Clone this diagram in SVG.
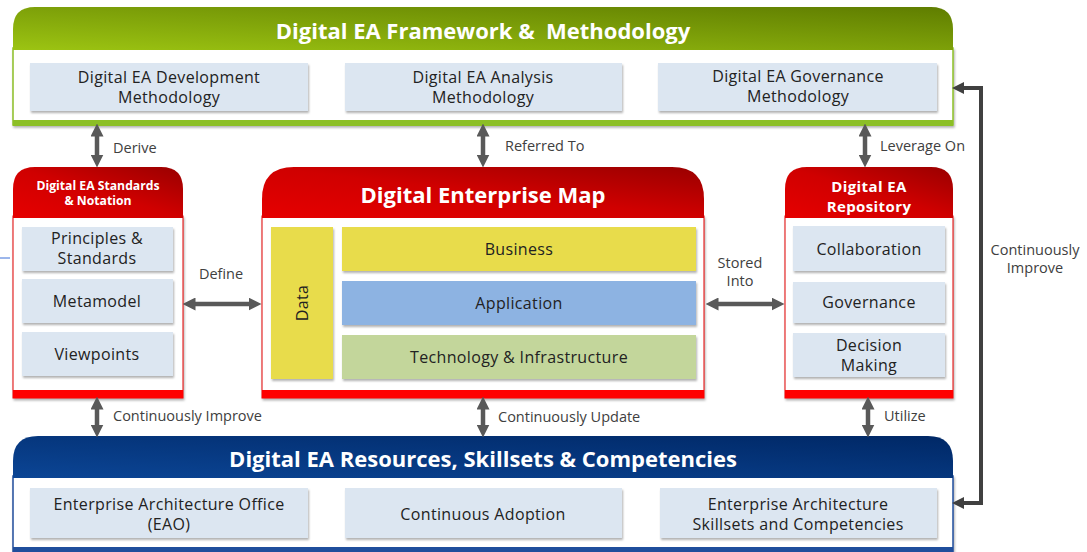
<svg xmlns="http://www.w3.org/2000/svg" width="1087" height="552" viewBox="0 0 1087 552">
<defs>
<linearGradient id="gGreen" x1="0" y1="1" x2="1" y2="0"><stop offset="0" stop-color="#9cc412"/><stop offset="1" stop-color="#5f7d00"/></linearGradient>
<linearGradient id="gRed" x1="0" y1="1" x2="1" y2="0"><stop offset="0" stop-color="#e60000"/><stop offset="0.5" stop-color="#d00000"/><stop offset="1" stop-color="#990000"/></linearGradient>
<linearGradient id="gBlue" x1="0" y1="1" x2="1" y2="0"><stop offset="0" stop-color="#0b4595"/><stop offset="1" stop-color="#002866"/></linearGradient>
<filter id="sh" x="-5%" y="-10%" width="110%" height="130%"><feDropShadow dx="1" dy="2" stdDeviation="1.2" flood-color="#000" flood-opacity="0.3"/></filter>
<marker id="ah" viewBox="0 0 10 10" refX="5" refY="5" markerWidth="13" markerHeight="13" markerUnits="userSpaceOnUse" orient="auto-start-reverse"><path d="M0,0 L10,5 L0,10 Z" fill="#595959"/></marker>
<marker id="ah2" viewBox="0 0 10 10" refX="5" refY="5" markerWidth="12" markerHeight="12" markerUnits="userSpaceOnUse" orient="auto-start-reverse"><path d="M0,0 L10,5 L0,10 Z" fill="#404040"/></marker>
</defs>
<style>
.box{fill:#dce6f1;filter:url(#sh)}
.bt{font-family:"Open Sans","Liberation Sans",sans-serif;font-size:16px;letter-spacing:0.35px;fill:#222222;text-anchor:middle}
.ht{font-family:"Open Sans","Liberation Sans",sans-serif;font-weight:bold;fill:#ffffff;text-anchor:middle;white-space:pre}
.lbl{font-family:"Open Sans","Liberation Sans",sans-serif;font-size:14.5px;fill:#404040}
.conn{stroke:#595959;stroke-width:4.5;fill:none;marker-start:url(#ah);marker-end:url(#ah)}
</style>
<rect width="1087" height="552" fill="#ffffff"/>
<line x1="0" y1="258" x2="10" y2="258" stroke="#3a6fd8" stroke-width="1"/>

<g id="framework">
<rect x="13" y="48" width="940" height="77" fill="#fff" stroke="#8cbf26" stroke-width="1.5" filter="url(#sh)"/>
<path d="M13,50 V29 Q13,7 35,7 H931 Q953,7 953,29 V50 Z" fill="url(#gGreen)"/>
<rect x="13" y="120" width="940" height="6" fill="#8cbf26"/>
<text class="ht" x="483" y="39" font-size="22">Digital EA Framework &amp;  Methodology</text>
<rect class="box" x="30" y="63" width="278" height="48"/>
<text class="bt" x="169" y="83">Digital EA Development<tspan x="169" dy="20">Methodology</tspan></text>
<rect class="box" x="345" y="63" width="277" height="48"/>
<text class="bt" x="483" y="83">Digital EA Analysis<tspan x="483" dy="20">Methodology</tspan></text>
<rect class="box" x="658" y="63" width="279" height="48"/>
<text class="bt" x="798" y="82">Digital EA Governance<tspan x="798" dy="20">Methodology</tspan></text>
</g>

<g id="standards">
<rect x="13" y="216" width="170" height="182" fill="#fff" stroke="#e00000" stroke-width="1" filter="url(#sh)"/>
<path d="M13,218 V189 Q13,167 35,167 H161 Q183,167 183,189 V218 Z" fill="url(#gRed)"/>
<rect x="13" y="390" width="170" height="8" fill="#ff0000"/>
<text class="ht" x="98" y="190" font-size="12.2">Digital EA Standards<tspan x="98" dy="15">&amp; Notation</tspan></text>
<rect class="box" x="22" y="227" width="151" height="44"/>
<text class="bt" x="97" y="244">Principles &amp;<tspan x="97" dy="20">Standards</tspan></text>
<rect class="box" x="22" y="279" width="151" height="44"/>
<text class="bt" x="97" y="307">Metamodel</text>
<rect class="box" x="22" y="332" width="151" height="44"/>
<text class="bt" x="97" y="360">Viewpoints</text>
</g>

<g id="enterprise-map">
<rect x="262" y="216" width="442" height="182" fill="#fff" stroke="#e00000" stroke-width="1" filter="url(#sh)"/>
<path d="M262,218 V199 Q262,167 294,167 H672 Q704,167 704,199 V218 Z" fill="url(#gRed)"/>
<rect x="262" y="390" width="442" height="8" fill="#ff0000"/>
<text class="ht" x="483" y="203" font-size="22">Digital Enterprise Map</text>
<rect x="271" y="227" width="62" height="152" fill="#e8dc4c" filter="url(#sh)"/>
<text class="bt" transform="translate(308,303) rotate(-90)" x="0" y="0">Data</text>
<rect x="342" y="227" width="354" height="44" fill="#e8dc4c" filter="url(#sh)"/>
<text class="bt" x="519" y="255">Business</text>
<rect x="342" y="281" width="354" height="44" fill="#8db3e2" filter="url(#sh)"/>
<text class="bt" x="519" y="309">Application</text>
<rect x="342" y="335" width="354" height="44" fill="#c3d69b" filter="url(#sh)"/>
<text class="bt" x="519" y="363">Technology &amp; Infrastructure</text>
</g>

<g id="repository">
<rect x="785" y="216" width="168" height="182" fill="#fff" stroke="#e00000" stroke-width="1" filter="url(#sh)"/>
<path d="M785,218 V189 Q785,167 807,167 H931 Q953,167 953,189 V218 Z" fill="url(#gRed)"/>
<rect x="785" y="390" width="168" height="8" fill="#ff0000"/>
<text class="ht" x="869" y="192" font-size="15" letter-spacing="0.4">Digital EA<tspan x="869" dy="19.5">Repository</tspan></text>
<rect class="box" x="793" y="226" width="152" height="45"/>
<text class="bt" x="869" y="255">Collaboration</text>
<rect class="box" x="793" y="282" width="152" height="41"/>
<text class="bt" x="869" y="308">Governance</text>
<rect class="box" x="793" y="333" width="152" height="44"/>
<text class="bt" x="869" y="351">Decision<tspan x="869" dy="20">Making</tspan></text>
</g>

<g id="resources">
<rect x="13" y="476" width="940" height="80" fill="#fff" stroke="#1f4e9c" stroke-width="1.5" filter="url(#sh)"/>
<path d="M13,478 V461 Q13,436 38,436 H928 Q953,436 953,461 V478 Z" fill="url(#gBlue)"/>
<rect x="13" y="547" width="940" height="6" fill="#1f4e9c"/>
<text class="ht" x="483" y="467" font-size="22">Digital EA Resources, Skillsets &amp; Competencies</text>
<rect class="box" x="30" y="488" width="278" height="50"/>
<text class="bt" x="169" y="510">Enterprise Architecture Office<tspan x="169" dy="20">(EAO)</tspan></text>
<rect class="box" x="345" y="488" width="277" height="50"/>
<text class="bt" x="483" y="520">Continuous Adoption</text>
<rect class="box" x="660" y="488" width="277" height="50"/>
<text class="bt" x="798" y="510">Enterprise Architecture<tspan x="798" dy="20">Skillsets and Competencies</tspan></text>
</g>

<g id="connectors">
<line class="conn" x1="97" y1="130" x2="97" y2="161"/>
<text class="lbl" x="113" y="153">Derive</text>
<line class="conn" x1="483" y1="130" x2="483" y2="161"/>
<text class="lbl" x="505" y="151">Referred To</text>
<line class="conn" x1="865" y1="130" x2="865" y2="161"/>
<text class="lbl" x="880" y="151">Leverage On</text>
<line class="conn" x1="189" y1="304" x2="255" y2="304"/>
<text class="lbl" x="221" y="279" text-anchor="middle">Define</text>
<line class="conn" x1="712" y1="304" x2="778" y2="304"/>
<text class="lbl" x="740" y="268" text-anchor="middle">Stored<tspan x="740" dy="18">Into</tspan></text>
<line class="conn" x1="97" y1="403" x2="97" y2="431"/>
<text class="lbl" x="113" y="421">Continuously Improve</text>
<line class="conn" x1="483" y1="403" x2="483" y2="431"/>
<text class="lbl" x="498" y="422">Continuously Update</text>
<line class="conn" x1="868" y1="403" x2="868" y2="431"/>
<text class="lbl" x="884" y="421">Utilize</text>
<path d="M958,88 H981 V503 H958" stroke="#404040" stroke-width="4" fill="none" marker-start="url(#ah2)" marker-end="url(#ah2)"/>
<text class="lbl" x="1035" y="255" text-anchor="middle">Continuously<tspan x="1035" dy="18">Improve</tspan></text>
</g>
</svg>
